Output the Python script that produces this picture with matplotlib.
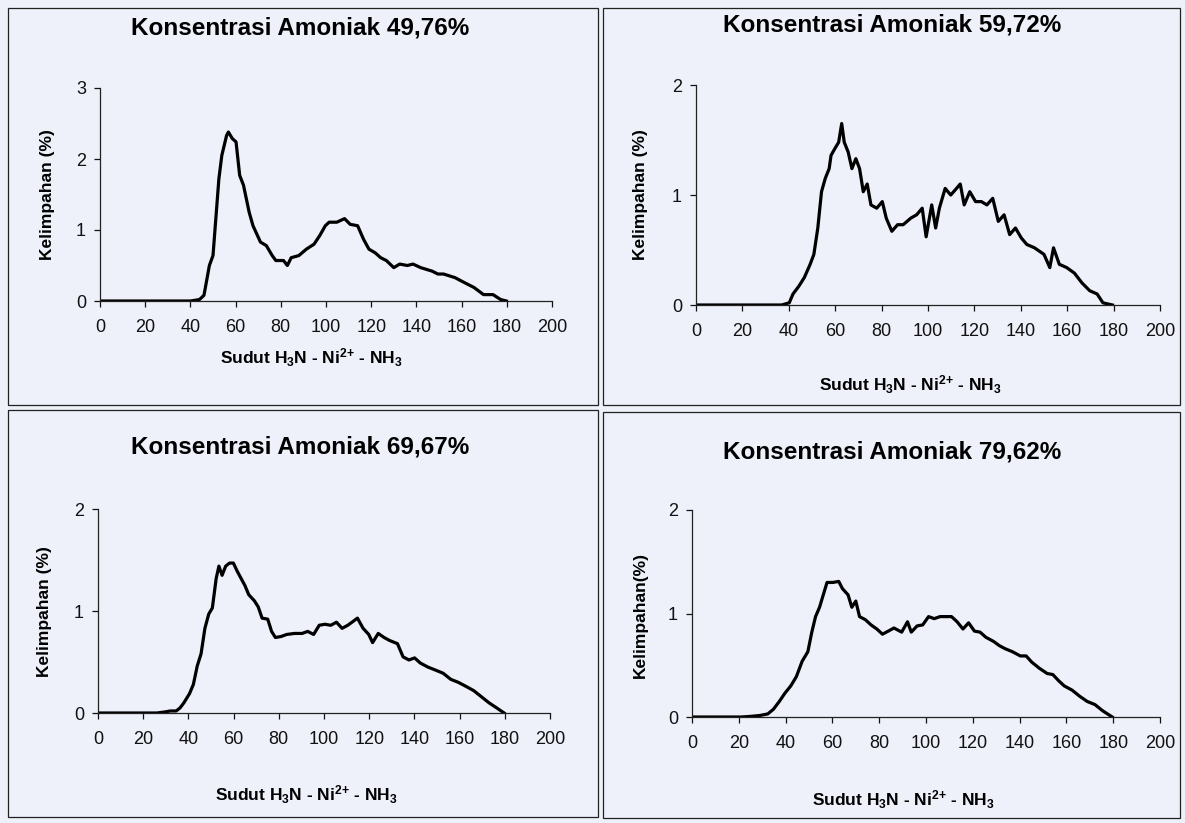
import matplotlib
matplotlib.use("Agg")
import matplotlib.pyplot as plt
from matplotlib.patches import Rectangle

plt.rcParams['font.family'] = ['Liberation Sans', 'DejaVu Sans']
plt.rcParams['mathtext.default'] = 'regular'

# --- data (angle in degrees, abundance in %) ---
sudut_1 = [0, 40, 42, 44, 46, 48.4, 50, 52.6, 53.9, 56, 56.8, 58.5, 60.2, 61.8, 63.5, 66, 67.7,
           71, 73.6, 76.2, 77.8, 81.2, 82.9, 84.6, 88, 91.3, 94.7, 97.2, 99.7, 101.4, 104.8,
           108.2, 110.7, 114, 116.6, 119, 121.7, 124.2, 126.7, 130, 132.6, 136, 138.5, 141.9,
           147, 149.5, 152, 157, 161.2, 165.5, 169.7, 173.9, 177.3, 179.8]
kelimpahan_1 = [0, 0, 0.01, 0.02, 0.08, 0.5, 0.64, 1.72, 2.05, 2.33, 2.38, 2.29, 2.24, 1.77, 1.63,
                1.25, 1.06, 0.83, 0.78, 0.64, 0.57, 0.57, 0.5, 0.61, 0.64, 0.73, 0.8, 0.92, 1.06,
                1.11, 1.11, 1.16, 1.08, 1.06, 0.87, 0.73, 0.68, 0.61, 0.57, 0.47, 0.52, 0.5, 0.52,
                0.47, 0.42, 0.38, 0.38, 0.33, 0.26, 0.19, 0.09, 0.09, 0.02, 0]

sudut_2 = [0, 36.9, 40.2, 41.8, 44.3, 46.7, 49.2, 50.8, 52.5, 54.1, 55.7, 57.4, 58.2, 59.8, 61.5,
           62.8, 63.9, 65.6, 67.2, 68.9, 70.5, 72.1, 73.8, 75.4, 77.9, 80.3, 82, 84.4, 86.9, 89.3,
           92.6, 95.1, 97.5, 99.2, 101.6, 103.3, 104.9, 107.4, 109.8, 112.3, 113.9, 115.6, 118,
           120.5, 123, 125.4, 127.9, 130.3, 132.8, 135.2, 137.7, 140.2, 142.6, 145.9, 150, 152.5,
           154.1, 156.6, 159.8, 163.1, 166.4, 169.7, 172.9, 175.4, 179.5]
kelimpahan_2 = [0, 0, 0.02, 0.1, 0.17, 0.25, 0.37, 0.46, 0.7, 1.03, 1.15, 1.24, 1.36, 1.42, 1.48,
                1.65, 1.48, 1.39, 1.24, 1.33, 1.24, 1.03, 1.1, 0.91, 0.88, 0.94, 0.79, 0.67, 0.73,
                0.73, 0.79, 0.82, 0.88, 0.62, 0.91, 0.7, 0.88, 1.06, 1.0, 1.06, 1.1, 0.91, 1.03,
                0.94, 0.94, 0.91, 0.97, 0.76, 0.82, 0.64, 0.7, 0.61, 0.55, 0.52, 0.46, 0.34, 0.52,
                0.37, 0.34, 0.29, 0.2, 0.13, 0.1, 0.02, 0]

sudut_3 = [0, 26, 29.5, 32, 34.6, 36.3, 38, 40.5, 42.2, 43.9, 45.6, 47.3, 49, 50.6, 52.3, 53.5,
           54.9, 56.5, 58.2, 59.9, 61.6, 63.3, 65, 66.7, 69.2, 70.9, 72.6, 75.1, 76.8, 78.5, 81,
           83.5, 86.9, 90.3, 92.8, 95.4, 97.9, 100.4, 103, 105.5, 108, 110.5, 113, 114.8, 117.3,
           119.8, 121.5, 124, 126.6, 129.1, 132.5, 135, 137.6, 140.1, 142.6, 146, 149.4, 152.7,
           156.1, 159.5, 162.9, 166.2, 169.6, 173, 176.4, 179.7]
kelimpahan_3 = [0, 0, 0.01, 0.02, 0.02, 0.05, 0.1, 0.19, 0.28, 0.46, 0.58, 0.83, 0.97, 1.03, 1.32,
                1.44, 1.35, 1.44, 1.47, 1.47, 1.39, 1.32, 1.25, 1.16, 1.1, 1.04, 0.93, 0.92, 0.8,
                0.74, 0.75, 0.77, 0.78, 0.78, 0.8, 0.77, 0.86, 0.87, 0.86, 0.89, 0.83, 0.86, 0.9,
                0.93, 0.83, 0.77, 0.69, 0.78, 0.74, 0.71, 0.68, 0.55, 0.52, 0.54, 0.49, 0.45, 0.42,
                0.39, 0.33, 0.3, 0.26, 0.22, 0.16, 0.1, 0.05, 0]

sudut_4 = [0, 21, 25, 29.1, 32.4, 34.8, 37.3, 39.7, 42.2, 44.6, 47.1, 49.5, 51.2, 52.8, 54.5,
           56.1, 57.7, 60.2, 62.7, 64.3, 66.7, 68.3, 70, 71.6, 74.1, 76.5, 79, 81.4, 83.9, 86.3,
           89.6, 92.1, 93.7, 96.2, 98.6, 101.1, 103.5, 106, 108.4, 110.9, 113.3, 115.8, 118.2,
           120.7, 123.1, 125.6, 128.9, 131.3, 133.8, 137, 140.3, 142.8, 145.2, 148.5, 151.8,
           154.2, 156.7, 159.1, 162.4, 165.7, 168.9, 172.2, 175.5, 179.6]
kelimpahan_4 = [0, 0, 0.006, 0.015, 0.03, 0.075, 0.15, 0.23, 0.3, 0.39, 0.54, 0.63, 0.82, 0.97,
                1.06, 1.18, 1.3, 1.3, 1.31, 1.24, 1.18, 1.06, 1.12, 0.97, 0.94, 0.89, 0.85, 0.8,
                0.83, 0.86, 0.82, 0.92, 0.82, 0.88, 0.89, 0.97, 0.95, 0.97, 0.97, 0.97, 0.92, 0.85,
                0.91, 0.83, 0.82, 0.77, 0.73, 0.69, 0.66, 0.63, 0.59, 0.59, 0.53, 0.47, 0.42, 0.41,
                0.35, 0.3, 0.26, 0.2, 0.15, 0.12, 0.06, 0]

titles = ["Konsentrasi Amoniak 49,76%", "Konsentrasi Amoniak 59,72%",
          "Konsentrasi Amoniak 69,67%", "Konsentrasi Amoniak 79,62%"]
ylabels = ["Kelimpahan (%)", "Kelimpahan (%)", "Kelimpahan (%)", "Kelimpahan(%)"]
ymax = [3, 2, 2, 2]
xlabel = "Sudut H$_3$N - Ni$^{2{+}}$ - NH$_3$"

W, H = 1185, 823
fig = plt.figure(figsize=(W / 100, H / 100), dpi=100, facecolor="#eef0fa")

def px(x0, y0, x1, y1):
    # pixel box (top-left origin) -> figure fraction rect
    return [x0 / W, 1 - y1 / H, (x1 - x0) / W, (y1 - y0) / H]

# panel layout in pixels: border box, axes box, title pos, xlabel pos, ylabel pos
panels = [
    dict(box=(8, 8, 598, 405), ax=(100, 88, 552, 301), title=(300, 28), xl=(311, 358), yl=(48, 195)),
    dict(box=(603, 8, 1180, 405), ax=(696, 85, 1160, 305), title=(892, 25), xl=(910, 385), yl=(640, 195)),
    dict(box=(8, 410, 598, 817), ax=(98, 509, 550, 713), title=(300, 447), xl=(306, 795), yl=(45, 612)),
    dict(box=(603, 412, 1180, 818), ax=(692, 510, 1160, 717), title=(892, 452), xl=(903, 800), yl=(640, 615)),
]
series = [(sudut_1, kelimpahan_1), (sudut_2, kelimpahan_2),
          (sudut_3, kelimpahan_3), (sudut_4, kelimpahan_4)]

for i, p in enumerate(panels):
    bx0, by0, bx1, by1 = p["box"]
    fig.patches.append(Rectangle((bx0 / W, 1 - by1 / H), (bx1 - bx0) / W, (by1 - by0) / H,
                                 transform=fig.transFigure, fill=False,
                                 edgecolor="#222222", linewidth=0.9))

    ax = fig.add_axes(px(*p["ax"]))
    ax.patch.set_alpha(0)
    x, y = series[i]
    ax.plot(x, y, color="black", linewidth=2.3)

    ax.set_xlim(0, 200)
    ax.set_ylim(0, ymax[i])
    ax.set_xticks(range(0, 201, 20))
    ax.set_yticks(range(0, ymax[i] + 1))
    for s in ["top", "right"]:
        ax.spines[s].set_visible(False)
    for s in ["left", "bottom"]:
        ax.spines[s].set_linewidth(0.9)
        ax.spines[s].set_color("#222222")
    ax.tick_params(direction="out", length=4, width=0.9, labelsize=13, colors="#111111")
    ax.tick_params(axis="x", pad=9)
    ax.tick_params(axis="y", pad=6)

    fig.text(p["title"][0] / W, 1 - p["title"][1] / H, titles[i], ha="center", va="center",
             fontsize=17.5, fontweight="bold")
    fig.text(p["xl"][0] / W, 1 - p["xl"][1] / H, xlabel, ha="center", va="center",
             fontsize=12.5, fontweight="bold")
    fig.text(p["yl"][0] / W, 1 - p["yl"][1] / H, ylabels[i], ha="center", va="center",
             rotation=90, fontsize=12.5, fontweight="bold")

fig.savefig("out.png", dpi=100, facecolor=fig.get_facecolor())
